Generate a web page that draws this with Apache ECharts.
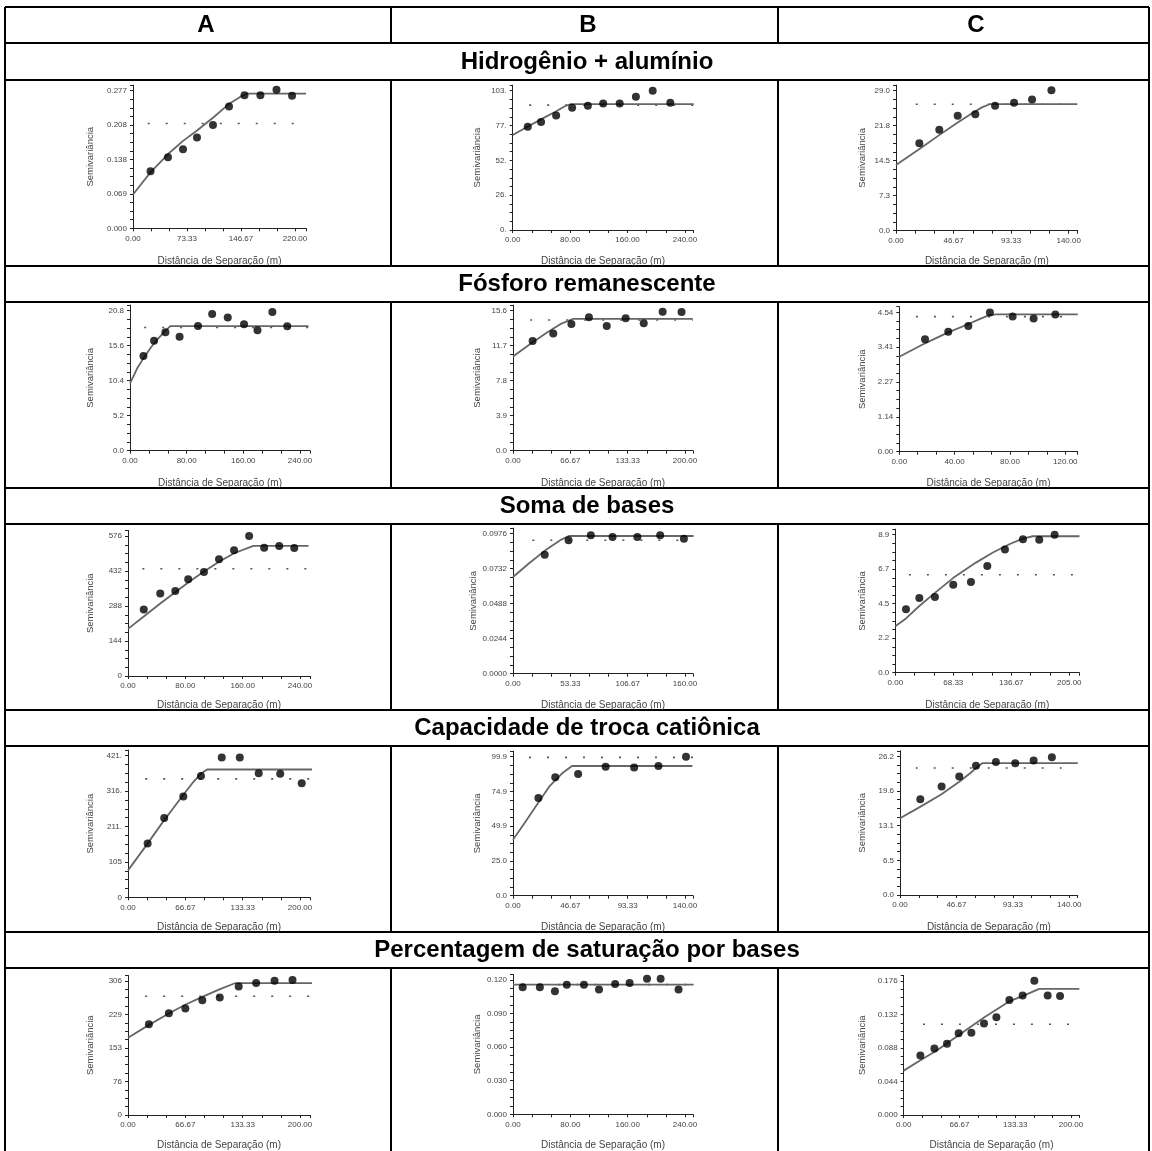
<!DOCTYPE html>
<html><head><meta charset="utf-8">
<script src="https://cdn.jsdelivr.net/npm/echarts@6/dist/echarts.min.js"></script>
<style>html,body{margin:0;padding:0;background:#fff}#c{width:1152px;height:1151px}</style>
</head><body><div id="c"></div>
<script>
// ---------- DATA ----------
const columnHeaders = ['A', 'B', 'C'];
const rowTitles = ['Hidrogênio + alumínio', 'Fósforo remanescente', 'Soma de bases', 'Capacidade de troca catiônica', 'Percentagem de saturação por bases'];
const xAxisTitle = 'Distância de Separação (m)';
const yAxisTitle = 'Semivariância';

// Row 1: Hidrogênio + alumínio
const hal_A_xTicks = ['0.00', '73.33', '146.67', '220.00'];
const hal_A_yTicks = ['0.000', '0.069', '0.138', '0.208', '0.277'];
const hal_A_points = [[23.8, 0.115], [47.5, 0.143], [67.9, 0.159], [86.9, 0.183], [108.6, 0.208], [130.4, 0.245], [151.4, 0.268], [173, 0.268], [194.9, 0.279], [216, 0.267]];
const hal_A_model = [[0, 0.068], [24, 0.113], [48, 0.150], [68, 0.176], [87, 0.197], [109, 0.223], [130, 0.250], [145, 0.264], [155, 0.271], [235, 0.271]];
const hal_B_xTicks = ['0.00', '80.00', '160.00', '240.00'];
const hal_B_yTicks = ['0.', '26.', '52.', '77.', '103.'];
const hal_B_points = [[21, 76.4], [39.5, 79.8], [60.5, 84.7], [82.8, 90.4], [104.7, 91.9], [126, 93.6], [149, 93.6], [171.6, 98.5], [195, 103], [219.5, 94.1]];
const hal_B_model = [[0, 70.2], [20, 76.2], [40, 82.0], [60, 87.6], [72, 91.3], [80, 93.0], [252, 93.0]];
const hal_C_xTicks = ['0.00', '46.67', '93.33', '140.00'];
const hal_C_yTicks = ['0.0', '7.3', '14.5', '21.8', '29.0'];
const hal_C_points = [[18.9, 18.1], [35.1, 20.9], [50, 23.8], [64.3, 24.1], [80.3, 25.9], [95.7, 26.5], [110.3, 27.2], [126, 29.1]];
const hal_C_model = [[0, 13.6], [19, 16.9], [35, 19.8], [50, 22.4], [62, 24.4], [70, 25.6], [76, 26.2], [147, 26.2]];

// Row 2: Fósforo remanescente
const prem_A_xTicks = ['0.00', '80.00', '160.00', '240.00'];
const prem_A_yTicks = ['0.0', '5.2', '10.4', '15.6', '20.8'];
const prem_A_points = [[19, 14.06], [34, 16.35], [50, 17.58], [70, 16.94], [96, 18.52], [116, 20.3], [138, 19.8], [161, 18.8], [180, 17.9], [201, 20.6], [222, 18.5]];
const prem_A_model = [[0, 10.0], [10, 12.2], [20, 13.9], [30, 15.4], [40, 16.7], [50, 17.8], [57, 18.5], [252, 18.5]];
const prem_B_xTicks = ['0.00', '66.67', '133.33', '200.00'];
const prem_B_yTicks = ['0.0', '3.9', '7.8', '11.7', '15.6'];
const prem_B_points = [[22.8, 12.22], [46.8, 13.07], [67.9, 14.11], [88.3, 14.86], [109, 13.89], [131, 14.75], [152, 14.19], [174, 15.49], [196, 15.45]];
const prem_B_model = [[0, 10.5], [20, 11.9], [40, 13.2], [55, 14.1], [70, 14.7], [209, 14.7]];
const prem_C_xTicks = ['0.00', '40.00', '80.00', '120.00'];
const prem_C_yTicks = ['0.00', '1.14', '2.27', '3.41', '4.54'];
const prem_C_points = [[18.6, 3.66], [35.4, 3.91], [49.9, 4.09], [65.5, 4.53], [81.9, 4.40], [97.1, 4.34], [112.8, 4.47]];
const prem_C_model = [[0, 3.09], [18.6, 3.53], [35, 3.88], [50, 4.16], [58, 4.32], [65, 4.45], [70, 4.47], [129, 4.47]];

// Row 3: Soma de bases
const sb_A_xTicks = ['0.00', '80.00', '160.00', '240.00'];
const sb_A_yTicks = ['0', '144', '288', '432', '576'];
const sb_A_points = [[22, 274], [45, 339], [66, 350], [84, 398], [106, 428], [127, 480], [148, 517], [169, 576], [190, 528], [211, 535], [232, 527]];
const sb_A_model = [[0, 194], [22, 245], [45, 298], [84, 385], [106, 430], [127, 470], [148, 505], [175, 535], [252, 535]];
const sb_B_xTicks = ['0.00', '53.33', '106.67', '160.00'];
const sb_B_yTicks = ['0.0000', '0.0244', '0.0488', '0.0732', '0.0976'];
const sb_B_points = [[29.5, 0.0830], [51.7, 0.0930], [72.4, 0.0965], [92.6, 0.0953], [115.7, 0.0953], [136.9, 0.0965], [159, 0.0941]];
const sb_B_model = [[0, 0.0674], [15, 0.0770], [30, 0.0860], [45, 0.0935], [52, 0.0960], [168, 0.0960]];
const sb_C_xTicks = ['0.00', '68.33', '136.67', '205.00'];
const sb_C_yTicks = ['0.0', '2.2', '4.5', '6.7', '8.9'];
const sb_C_points = [[12.6, 4.09], [28.3, 4.82], [46.7, 4.88], [68.3, 5.68], [89.1, 5.85], [108.4, 6.88], [129.2, 7.94], [150.4, 8.60], [169.6, 8.58], [187.7, 8.90]];
const sb_C_model = [[0, 3.0], [12.6, 3.5], [28.3, 4.3], [46.7, 5.15], [68, 6.1], [95, 7.1], [115, 7.75], [135, 8.3], [150, 8.65], [162, 8.8], [217, 8.8]];

// Row 4: Capacidade de troca catiônica
const ctc_A_xTicks = ['0.00', '66.67', '133.33', '200.00'];
const ctc_A_yTicks = ['0', '105', '211.', '316.', '421.'];
const ctc_A_points = [[22.8, 160], [42.1, 236], [64.3, 300], [84.8, 361], [109, 416], [130, 416], [152, 369], [177, 367], [202, 339]];
const ctc_A_model = [[0, 80], [20, 150], [40, 222], [60, 290], [75, 340], [85, 368], [92, 380], [214, 380]];
const ctc_B_xTicks = ['0.00', '46.67', '93.33', '140.00'];
const ctc_B_yTicks = ['0.0', '25.0', '49.9', '74.9', '99.9'];
const ctc_B_points = [[20.7, 70.2], [34.4, 85.1], [53, 87.4], [75.4, 92.7], [98.6, 92.2], [118.4, 93.2], [140.8, 99.9]];
const ctc_B_model = [[0, 40.2], [10, 53], [20, 66], [30, 79], [40, 88], [48, 93.2], [146, 93.2]];
const ctc_C_xTicks = ['0.00', '46.67', '93.33', '140.00'];
const ctc_C_yTicks = ['0.0', '6.5', '13.1', '19.6', '26.2'];
const ctc_C_points = [[16.8, 18.1], [34.4, 20.5], [49, 22.4], [62.8, 24.4], [79.3, 25.1], [95.3, 24.9], [110.5, 25.4], [125.6, 26.0]];
const ctc_C_model = [[0, 14.5], [17, 16.7], [34, 19.0], [49, 21.4], [58, 23.0], [63, 24.0], [68, 24.9], [147, 24.9]];

// Row 5: Percentagem de saturação por bases
const v_A_xTicks = ['0.00', '66.67', '133.33', '200.00'];
const v_A_yTicks = ['0', '76', '153', '229', '306'];
const v_A_points = [[24.3, 207], [47.5, 232], [66.7, 243], [86.4, 262], [106.7, 268], [128.7, 293], [149, 301], [170.4, 306], [191.3, 308]];
const v_A_model = [[0, 176], [24, 205], [48, 232], [67, 252], [87, 270], [107, 287], [125, 301], [214, 301]];
const v_B_xTicks = ['0.00', '80.00', '160.00', '240.00'];
const v_B_yTicks = ['0.000', '0.030', '0.060', '0.090', '0.120'];
const v_B_points = [[13.5, 0.1133], [37.5, 0.1133], [58.5, 0.1099], [75, 0.1157], [99, 0.1157], [120, 0.1113], [142.5, 0.1162], [162.7, 0.1171], [187, 0.1209], [206, 0.1209], [231, 0.1113]];
const v_B_model = [[0, 0.1157], [252, 0.1157]];
const v_C_xTicks = ['0.00', '66.67', '133.33', '200.00'];
const v_C_yTicks = ['0.000', '0.044', '0.088', '0.132', '0.176'];
const v_C_points = [[19.9, 0.0782], [36.7, 0.0872], [51.8, 0.0935], [65.7, 0.1071], [80.9, 0.108], [96, 0.1199], [110.8, 0.1284], [126.3, 0.1509], [142.2, 0.1569], [156.2, 0.176], [172.1, 0.1569], [186.9, 0.156]];
const v_C_model = [[0, 0.0582], [20, 0.0718], [40, 0.085], [66, 0.105], [96, 0.128], [126, 0.149], [142, 0.156], [162, 0.1654], [210, 0.1654]];

// Sample variance (dotted line) per panel, row-major A,B,C, and where it starts
const sampleVariance = [0.211, 92.3, 26.2, 18.3, 14.56, 4.40, 441, 0.0930, 6.32, 352, 99.4, 24.0, 271, 0.1157, 0.119];
const sampleVarStart = [20, 23, 16, 20, 20, 12, 20, 18, 16, 20, 13, 13, 20, 13, 23];

// ---------- LAYOUT (pixels) ----------
const tableL = 5, tableR = 1149, tableT = 7, tableB = 1160;
const colX = [5, 391, 778, 1149];
const hLines = [43, 80, 266, 302, 488, 524, 710, 746, 932, 968];
const cellTops = [80, 302, 524, 746, 968];
const yTitleX = [90, 477, 862];
// per panel: [axisX, lastXLabelX, axisEndX, topLabelY, zeroY]
const geom = [
  [133, 295, 306, 90.7, 228.3], [512.7, 685, 693.3, 90.7, 230], [896, 1068.7, 1077.7, 90.7, 230.7],
  [130, 300, 310, 310.7, 450.7], [513, 685, 693, 310.7, 450.7], [899.3, 1065.3, 1077.7, 312.3, 451.7],
  [128, 300, 310, 536, 676], [513, 685, 693, 533.7, 673.7], [895.3, 1069.3, 1079.3, 534.7, 672.7],
  [128, 300, 310, 755.7, 897.3], [513, 685, 693, 756.7, 895.7], [900, 1069.3, 1077.7, 756.3, 895],
  [128, 300, 310, 981, 1119], [513, 685, 693, 980, 1118.3], [903.7, 1071, 1079.3, 981, 1119]
];

const panels = [
  [hal_A_points, hal_A_model, hal_A_xTicks, hal_A_yTicks], [hal_B_points, hal_B_model, hal_B_xTicks, hal_B_yTicks], [hal_C_points, hal_C_model, hal_C_xTicks, hal_C_yTicks],
  [prem_A_points, prem_A_model, prem_A_xTicks, prem_A_yTicks], [prem_B_points, prem_B_model, prem_B_xTicks, prem_B_yTicks], [prem_C_points, prem_C_model, prem_C_xTicks, prem_C_yTicks],
  [sb_A_points, sb_A_model, sb_A_xTicks, sb_A_yTicks], [sb_B_points, sb_B_model, sb_B_xTicks, sb_B_yTicks], [sb_C_points, sb_C_model, sb_C_xTicks, sb_C_yTicks],
  [ctc_A_points, ctc_A_model, ctc_A_xTicks, ctc_A_yTicks], [ctc_B_points, ctc_B_model, ctc_B_xTicks, ctc_B_yTicks], [ctc_C_points, ctc_C_model, ctc_C_xTicks, ctc_C_yTicks],
  [v_A_points, v_A_model, v_A_xTicks, v_A_yTicks], [v_B_points, v_B_model, v_B_xTicks, v_B_yTicks], [v_C_points, v_C_model, v_C_xTicks, v_C_yTicks]
];

const FONT = '"Liberation Sans", Arial, sans-serif';
const AX = '#222', TXT = '#444';

function labelFn(ticks, step) {
  return function (v) {
    const k = v / step, r = Math.round(k);
    return (Math.abs(k - r) < 1e-3 && r >= 0 && r < ticks.length) ? ticks[r] : '';
  };
}

const grids = [], xAxes = [], yAxes = [], series = [];
panels.forEach(function (p, i) {
  const [pts, model, xt, yt] = p;
  const [axisX, x3X, endX, topY, zeroY] = geom[i];
  const row = Math.floor(i / 3), col = i % 3;
  const X3 = parseFloat(xt[3]), Y4 = parseFloat(yt[4]);
  const gTop = topY - 0.04 * (zeroY - topY);
  const xMax = X3 * (endX - axisX) / (x3X - axisX);
  const yMax = Y4 * (zeroY - gTop) / (zeroY - topY);
  grids.push({ left: axisX, top: gTop, width: endX - axisX, height: zeroY - gTop });
  xAxes.push({
    gridIndex: i, type: 'value', min: 0, max: xMax, interval: X3 / 9,
    axisLine: { show: true, onZero: false, lineStyle: { color: AX, width: 1 } },
    axisTick: { show: true, length: 3, lineStyle: { color: AX } },
    splitLine: { show: false },
    axisLabel: { formatter: labelFn(xt, X3 / 3), fontSize: 8, color: TXT, margin: 6, fontFamily: FONT, showMaxLabel: true },
    name: xAxisTitle, nameLocation: 'middle', nameGap: (cellTops[row] + 181) - zeroY - 5,
    nameTextStyle: { fontSize: 10, color: TXT, fontFamily: FONT }
  });
  yAxes.push({
    gridIndex: i, type: 'value', min: 0, max: yMax, interval: Y4 / 16,
    axisLine: { show: true, onZero: false, lineStyle: { color: AX, width: 1 } },
    axisTick: { show: true, length: 3, lineStyle: { color: AX } },
    splitLine: { show: false },
    axisLabel: { formatter: labelFn(yt, Y4 / 4), fontSize: 8, color: TXT, margin: 6, fontFamily: FONT },
    name: yAxisTitle, nameLocation: 'middle', nameGap: axisX - yTitleX[col] - 5,
    nameTextStyle: { fontSize: 9.5, color: TXT, fontFamily: FONT }
  });
  series.push({
    type: 'line', xAxisIndex: i, yAxisIndex: i, data: [[sampleVarStart[i], sampleVariance[i]], [xMax, sampleVariance[i]]],
    symbol: 'none', silent: true, lineStyle: { color: '#555', width: 1.6, type: [2, 16] }, z: 1
  });
  series.push({
    type: 'line', xAxisIndex: i, yAxisIndex: i, data: model, symbol: 'none', smooth: false,
    silent: true, lineStyle: { color: '#666', width: 1.8, join: 'round' }, z: 2
  });
  series.push({
    type: 'scatter', xAxisIndex: i, yAxisIndex: i, data: pts, symbol: 'circle', symbolSize: 8, clip: false,
    itemStyle: { color: '#000' }, z: 3
  });
});

// table graphics
const graphic = [];
function line(x1, y1, x2, y2) {
  graphic.push({ type: 'line', silent: true, shape: { x1: x1, y1: y1, x2: x2, y2: y2 }, style: { stroke: '#000', lineWidth: 2 } });
}
line(tableL, tableT, tableR, tableT);
line(tableL, tableT, tableL, tableB);
line(tableR, tableT, tableR, tableB);
hLines.forEach(function (y) { line(tableL, y, tableR, y); });
[[tableT, 43]].concat(cellTops.map(function (t, r) { return [t, r < 4 ? hLines[2 + 2 * r] : tableB]; })).forEach(function (seg) {
  line(colX[1], seg[0], colX[1], seg[1]);
  line(colX[2], seg[0], colX[2], seg[1]);
});
const headerX = [206, 588, 976];
columnHeaders.forEach(function (h, c) {
  graphic.push({ type: 'text', silent: true, x: headerX[c], y: 25, style: { text: h, font: 'bold 24px ' + FONT, fill: '#000', align: 'center', verticalAlign: 'middle' } });
});
const titleY = [62, 284, 506, 728, 950];
rowTitles.forEach(function (t, r) {
  graphic.push({ type: 'text', silent: true, x: 587, y: titleY[r], style: { text: t, font: 'bold 24px ' + FONT, fill: '#000', align: 'center', verticalAlign: 'middle' } });
});

const chart = echarts.init(document.getElementById('c'), null, { renderer: 'canvas' });
chart.setOption({
  animation: false,
  backgroundColor: '#fff',
  grid: grids, xAxis: xAxes, yAxis: yAxes, series: series, graphic: graphic
});
</script></body></html>
